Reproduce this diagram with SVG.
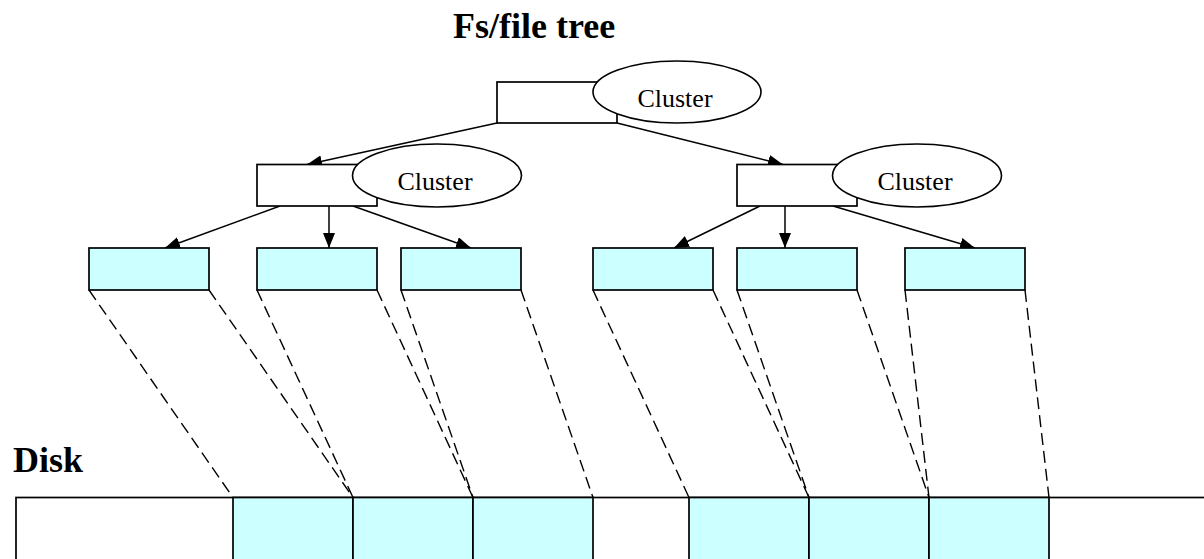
<svg xmlns="http://www.w3.org/2000/svg" width="1204" height="559" viewBox="0 0 1204 559">
  <style>
    .box { fill: #ffffff; stroke: #000000; stroke-width: 1.7; }
    .leaf { fill: #ccffff; stroke: #000000; stroke-width: 1.7; }
    .bubble { fill: #ffffff; stroke: #000000; stroke-width: 1.6; }
    .edge { stroke: #000000; stroke-width: 1.5; fill: none; marker-end: url(#arrow); }
    .map { stroke: #000000; stroke-width: 1.4; fill: none; stroke-dasharray: 12 6; }
    .label { font-family: "Liberation Serif", "Times New Roman", serif; font-size: 26px; fill: #000000; text-anchor: middle; }
    .title { font-family: "Liberation Serif", "Times New Roman", serif; font-size: 36px; font-weight: bold; fill: #000000; }
  </style>
  <defs>
    <marker id="arrow" viewBox="0 0 15 12" refX="15" refY="6" markerWidth="15" markerHeight="12" markerUnits="userSpaceOnUse" orient="auto">
      <path d="M0,0 L15,6 L0,12 Z" fill="#000000"/>
    </marker>
  </defs>

  <rect x="0" y="0" width="1204" height="559" fill="#ffffff"/>

  <!-- headings -->
  <text class="title" x="453" y="38">Fs/file tree</text>
  <text class="title" x="13" y="472">Disk</text>

  <!-- disk strip with the occupied clusters -->
  <g id="disk">
    <rect x="16" y="497.5" width="1200" height="100" fill="#ffffff" stroke="#000000" stroke-width="1.7"/>
    <rect class="leaf" x="233" y="497.5" width="120" height="100"/>
    <rect class="leaf" x="353" y="497.5" width="120" height="100"/>
    <rect class="leaf" x="473" y="497.5" width="120" height="100"/>
    <rect class="leaf" x="689" y="497.5" width="120" height="100"/>
    <rect class="leaf" x="809" y="497.5" width="120" height="100"/>
    <rect class="leaf" x="929" y="497.5" width="120" height="100"/>
  </g>

  <!-- tree edges and cluster-to-disk mapping -->
  <g id="connectors">
    <line class="edge" x1="497" y1="123" x2="307" y2="164.5"/>
    <line class="edge" x1="617" y1="123" x2="783" y2="164.5"/>

    <line class="edge" x1="280" y1="206" x2="165" y2="248"/>
    <line class="edge" x1="329" y1="206" x2="329" y2="248"/>
    <line class="edge" x1="353" y1="206" x2="471" y2="248"/>

    <line class="edge" x1="760" y1="206" x2="674" y2="248"/>
    <line class="edge" x1="785" y1="206" x2="785" y2="248"/>
    <line class="edge" x1="833" y1="206" x2="975" y2="248"/>

    <line class="map" x1="89" y1="290" x2="233" y2="497.5"/>
    <line class="map" x1="209" y1="290" x2="353" y2="497.5"/>
    <line class="map" x1="257" y1="290" x2="353" y2="497.5"/>
    <line class="map" x1="377" y1="290" x2="473" y2="497.5"/>
    <line class="map" x1="401" y1="290" x2="473" y2="497.5"/>
    <line class="map" x1="521" y1="290" x2="593" y2="497.5"/>
    <line class="map" x1="593" y1="290" x2="689" y2="497.5"/>
    <line class="map" x1="713" y1="290" x2="809" y2="497.5"/>
    <line class="map" x1="737" y1="290" x2="809" y2="497.5"/>
    <line class="map" x1="857" y1="290" x2="929" y2="497.5"/>
    <line class="map" x1="905" y1="290" x2="929" y2="497.5"/>
    <line class="map" x1="1025" y1="290" x2="1049" y2="497.5"/>
  </g>

  <!-- root directory -->
  <g id="root">
    <rect class="box" x="497" y="82" width="120" height="41"/>
    <ellipse class="bubble" cx="677" cy="92" rx="84" ry="31"/>
    <text class="label" x="675" y="107">Cluster</text>
  </g>

  <!-- sub-directories -->
  <g id="dir-left">
    <rect class="box" x="257" y="164.5" width="120" height="41.5"/>
    <ellipse class="bubble" cx="437" cy="175.5" rx="84.5" ry="31.5"/>
    <text class="label" x="435" y="190">Cluster</text>
  </g>
  <g id="dir-right">
    <rect class="box" x="737" y="164.5" width="120" height="41.5"/>
    <ellipse class="bubble" cx="917" cy="175.5" rx="84.5" ry="31.5"/>
    <text class="label" x="915" y="190">Cluster</text>
  </g>

  <!-- file clusters -->
  <g id="file-1"><rect class="leaf" x="89" y="248" width="120" height="42"/></g>
  <g id="file-2"><rect class="leaf" x="257" y="248" width="120" height="42"/></g>
  <g id="file-3"><rect class="leaf" x="401" y="248" width="120" height="42"/></g>
  <g id="file-4"><rect class="leaf" x="593" y="248" width="120" height="42"/></g>
  <g id="file-5"><rect class="leaf" x="737" y="248" width="120" height="42"/></g>
  <g id="file-6"><rect class="leaf" x="905" y="248" width="120" height="42"/></g>
</svg>
